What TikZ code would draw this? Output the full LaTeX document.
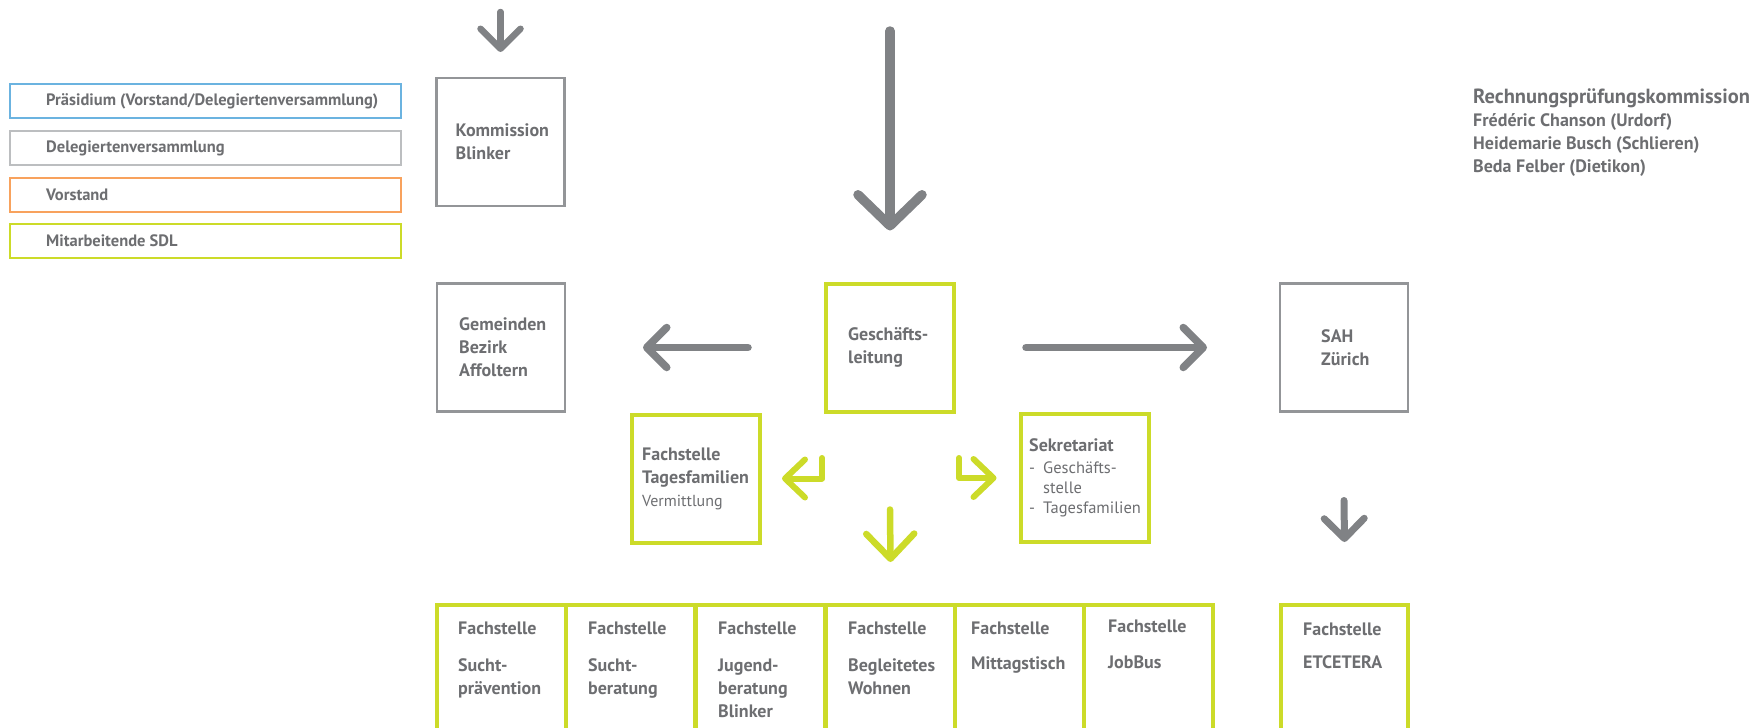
\documentclass[tikz,border=0pt]{standalone}
\usepackage{fontspec}
\setmainfont{PT Sans}
\usetikzlibrary{arrows.meta}
\definecolor{txtgrey}{HTML}{6D6E71}
\definecolor{arrgrey}{HTML}{808285}
\definecolor{boxgrey}{HTML}{939598}
\definecolor{leggrey}{HTML}{BCBEC0}
\definecolor{lime}{HTML}{CCDB29}
\definecolor{legblue}{HTML}{6BB3E0}
\definecolor{legorange}{HTML}{F8A25D}
\newcommand{\thinlist}{\mdseries\fontsize{16.5}{20}\selectfont}
\begin{document}
\begin{tikzpicture}[x=1pt, y=-1pt,
        every node/.style={text=txtgrey, font=\bfseries\fontsize{18}{23}\selectfont},
        gbox/.style={draw=boxgrey, line width=2.5pt, outer sep=0pt, minimum width=128, minimum height=128},
        lbox/.style={draw=lime, line width=4pt, outer sep=0pt, minimum width=128, minimum height=128},
        fbox/.style={draw=lime, line width=4pt, outer sep=0pt, anchor=north west, minimum width=129, minimum height=170},
        legbox/.style={line width=2pt, outer sep=0pt, minimum width=391, minimum height=34},
        btext/.style={anchor=west, align=left, inner sep=0pt},
        ftext/.style={anchor=north west, align=left, inner sep=0pt},
        legtext/.style={btext, font=\bfseries\fontsize{16.5}{20}\selectfont},
        garr/.style={draw=arrgrey, line width=7pt, line cap=round,
            -{Straight Barb[length=20pt, width=40pt, line cap=round, line join=round]}},
        larr/.style={draw=lime, line width=6pt, line cap=round, line join=round,
            -{Straight Barb[length=20pt, width=38pt, line cap=round, line join=round]}}]
        \useasboundingbox (0,0) rectangle (1757,728);

        % legend
        \node[legbox, draw=legblue] (leg1) at (205.5,101) {};
        \node[legbox, draw=leggrey] (leg2) at (205.5,148) {};
        \node[legbox, draw=legorange] (leg3) at (205.5,194.5) {};
        \node[legbox, draw=lime] (leg4) at (205.5,240.5) {};
        \node[legtext] (leg1t) at ([xshift=36pt]leg1.west) {Präsidium (Vorstand/Delegiertenversammlung)};
        \node[legtext] (leg2t) at ([xshift=36pt]leg2.west) {Delegiertenversammlung};
        \node[legtext] (leg3t) at ([xshift=36pt]leg3.west) {Vorstand};
        \node[legtext] (leg4t) at ([xshift=36pt]leg4.west) {Mitarbeitende SDL};

        % Rechnungsprüfungskommission
        \node[btext, font=\bfseries\fontsize{20.5}{23}\selectfont] (rpk) at (1473,98) {Rechnungsprüfungskommission};
        \node[btext] (rpkn) at (1473,145) {Frédéric Chanson (Urdorf)\\Heidemarie Busch (Schlieren)\\Beda Felber (Dietikon)};

        % upper boxes
        \node[gbox] (kb) at (500.5,142) {};
        \node[btext] (kbt) at ([xshift=19pt]kb.west) {Kommission\\Blinker};
        \node[gbox] (gem) at (501,347.5) {};
        \node[btext] (gemt) at ([xshift=22pt]gem.west) {Gemeinden\\Bezirk\\Affoltern};
        \node[lbox] (gl) at (890,347.5) {};
        \node[btext] (glt) at ([xshift=22pt]gl.west) {Geschäfts-\\leitung};
        \node[gbox] (sah) at (1344,347.5) {};
        \node[btext] (saht) at ([xshift=41pt]sah.west) {SAH\\Zürich};
        \node[lbox] (fst) at (696,478.5) {};
        \node[btext] (fstt) at ([xshift=10pt]fst.west) {Fachstelle\\Tagesfamilien\\{\mdseries\fontsize{16}{20}\selectfont Vermittlung}};
        \node[lbox] (sek) at (1084.5,478) {};
        \node[btext] (sekt) at ([xshift=8.5pt]sek.west) {Sekretariat\\[-1pt]{\thinlist\makebox[14pt][l]{-}Geschäfts-}\\[-3pt]{\thinlist\hspace*{14pt}stelle}\\[-3pt]{\thinlist\makebox[14pt][l]{-}Tagesfamilien}};

        % Fachstellen
        \node[fbox] (f1) at (437,605) {};
        \node[fbox] (f2) at (566,605) {};
        \node[fbox] (f3) at (696,605) {};
        \node[fbox] (f4) at (826,605) {};
        \node[fbox] (f5) at (955,605) {};
        \node[fbox] (f6) at (1084,605) {};
        \node[fbox, minimum width=127] (fetc) at (1281,605) {};
        \node[ftext] (f1t) at ([shift={(21pt,-17pt)}]f1.north west) {Fachstelle\\[14pt]Sucht-\\prävention};
        \node[ftext] (f2t) at ([shift={(22pt,-17pt)}]f2.north west) {Fachstelle\\[14pt]Sucht-\\beratung};
        \node[ftext] (f3t) at ([shift={(22pt,-17pt)}]f3.north west) {Fachstelle\\[14pt]Jugend-\\beratung\\Blinker};
        \node[ftext] (f4t) at ([shift={(22pt,-17pt)}]f4.north west) {Fachstelle\\[14pt]Begleitetes\\Wohnen};
        \node[ftext] (f5t) at ([shift={(16pt,-17pt)}]f5.north west) {Fachstelle\\[12pt]Mittagstisch};
        \node[ftext] (f6t) at ([shift={(24pt,-15pt)}]f6.north west) {Fachstelle\\[13pt]JobBus};
        \node[ftext] (fetct) at ([shift={(22pt,-18pt)}]fetc.north west) {Fachstelle\\[10pt]ETCETERA};

        % arrows
        \coordinate (kin) at (500.5,12);
        \coordinate (glin) at (890,31);
        \coordinate (hl) at (822,458);
        \coordinate (hr) at (959,458);
        \draw[garr, line width=6.5pt] (kin) -- ([yshift=26pt]kb.north);
        \draw[garr, line width=9.5pt, -{Straight Barb[length=31pt, width=64pt, line cap=round, line join=round]}] (glin) -- ([yshift=53pt]gl.north);
        \draw[garr, line width=7.5pt] ([xshift=-78pt]gl.west) -- ([xshift=78pt]gem.east);
        \draw[garr, line width=7.5pt] ([xshift=72pt]gl.east) -- ([xshift=-73pt]sah.west);
        \draw[garr] ([yshift=-89pt]sah.south) -- ([yshift=63pt]fetc.north);
        \draw[larr] (hl) |- ([xshift=22pt]fst.east);
        \draw[larr] (hr) |- ([xshift=-24pt]sek.west);
        \draw[larr, line width=6.5pt, -{Straight Barb[length=25pt, width=48pt, line cap=round, line join=round]}] ([yshift=-98pt]gl.south) -- ([yshift=43pt]f4.north);
    \end{tikzpicture}
\end{document}
